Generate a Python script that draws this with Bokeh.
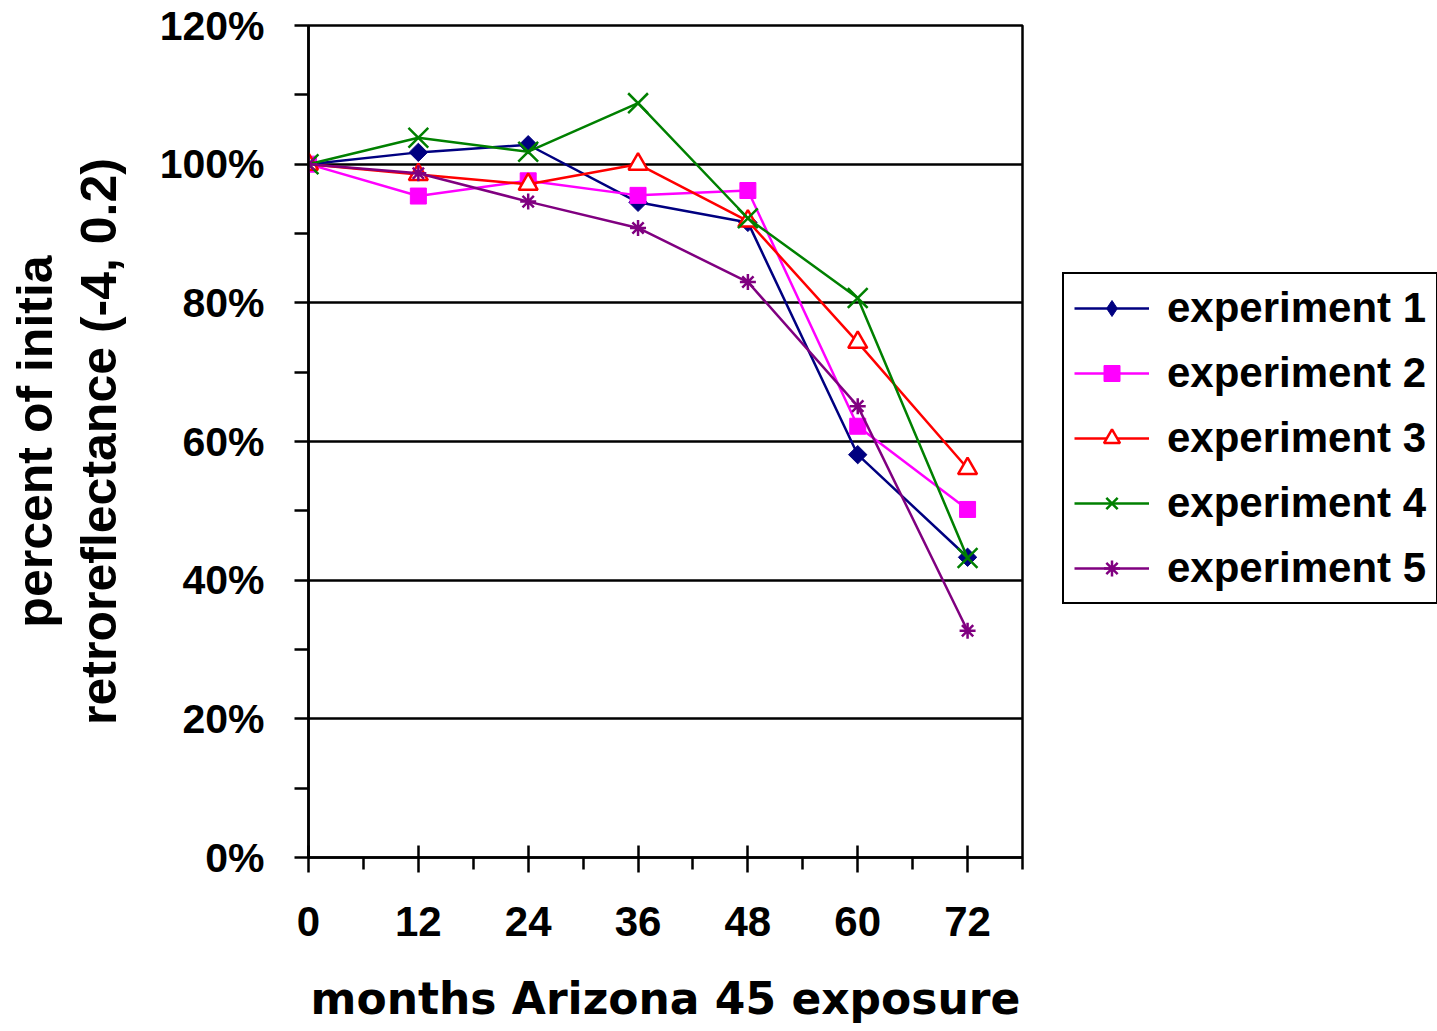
import math
from bokeh.plotting import figure
from bokeh.layouts import row
from bokeh.models import (FixedTicker, NumeralTickFormatter, LinearAxis, Legend,
                          LegendItem, Range1d)
from bokeh.embed import file_html
from bokeh.resources import INLINE

# ---- data ----
months = [0, 12, 24, 36, 48, 60, 72]
exp1 = [1.000, 1.017, 1.028, 0.945, 0.916, 0.581, 0.433]
exp2 = [1.000, 0.954, 0.976, 0.955, 0.962, 0.622, 0.502]
exp3 = [1.000, 0.985, 0.971, 1.000, 0.918, 0.743, 0.561]
exp4 = [1.000, 1.038, 1.018, 1.088, 0.922, 0.807, 0.432]
exp5 = [1.000, 0.987, 0.946, 0.908, 0.830, 0.651, 0.327]
series_names = ["experiment 1", "experiment 2", "experiment 3", "experiment 4", "experiment 5"]
series_values = [exp1, exp2, exp3, exp4, exp5]
colors = ["#000080", "#FF00FF", "#FF0000", "#008000", "#800080"]

x_ticks = [0, 12, 24, 36, 48, 60, 72]
x_minor_ticks = [6, 18, 30, 42, 54, 66, 78]
y_ticks = [0.0, 0.2, 0.4, 0.6, 0.8, 1.0, 1.2]
y_minor_ticks = [0.1, 0.3, 0.5, 0.7, 0.9, 1.1]

x_title = "months Arizona 45 exposure"
y_title_1 = "percent of initia"
y_title_2 = "retroreflectance (-4, 0.2)"

FONT = "Liberation Sans"

p = figure(width=1042, height=1031, output_backend="svg", toolbar_location=None,
           x_range=Range1d(0, 78), y_range=Range1d(0, 1.2),
           min_border_left=308, min_border_right=20, min_border_top=25,
           min_border_bottom=174, background_fill_color="white",
           border_fill_color="white")
p.outline_line_color = "black"
p.outline_line_width = 2.5
p.outline_line_alpha = 1.0

# grids
p.xgrid.visible = False
p.ygrid.ticker = FixedTicker(ticks=y_ticks)
p.ygrid.grid_line_color = "black"
p.ygrid.grid_line_width = 2.5

# x axis
xa = p.xaxis[0]
xa.ticker = FixedTicker(ticks=x_ticks, minor_ticks=x_minor_ticks)
xa.axis_line_color = "black"
xa.axis_line_width = 2.5
xa.major_tick_line_color = "black"
xa.major_tick_line_width = 2.5
xa.major_tick_in = 12
xa.major_tick_out = 15
xa.minor_tick_line_color = "black"
xa.minor_tick_line_width = 2.5
xa.minor_tick_in = 0
xa.minor_tick_out = 12
xa.major_label_text_font = FONT
xa.major_label_text_font_style = "bold"
xa.major_label_text_font_size = "42px"
xa.major_label_text_color = "black"
xa.major_label_standoff = 34
xa.axis_label = x_title
xa.axis_label_text_font = "DejaVu Sans"
xa.axis_label_text_font_style = "bold"
xa.axis_label_text_font_size = "44px"
xa.axis_label_text_color = "black"
xa.axis_label_standoff = 34

# y axis
ya = p.yaxis[0]
ya.ticker = FixedTicker(ticks=y_ticks, minor_ticks=y_minor_ticks)
ya.formatter = NumeralTickFormatter(format="0%")
ya.axis_line_color = "black"
ya.axis_line_width = 2.5
ya.major_tick_line_color = "black"
ya.major_tick_line_width = 2.5
ya.major_tick_in = 0
ya.major_tick_out = 14
ya.minor_tick_line_color = "black"
ya.minor_tick_line_width = 2.5
ya.minor_tick_in = 0
ya.minor_tick_out = 14
ya.major_label_text_font = FONT
ya.major_label_text_font_style = "bold"
ya.major_label_text_font_size = "41px"
ya.major_label_text_color = "black"
ya.major_label_standoff = 30
ya.axis_label = y_title_2
ya.axis_label_text_font = FONT
ya.axis_label_text_font_style = "bold"
ya.axis_label_text_font_size = "50px"
ya.axis_label_text_color = "black"
ya.axis_label_standoff = 30

# second (outer) left axis holding the first line of the y title
ya2 = LinearAxis(ticker=FixedTicker(ticks=[]), axis_line_color=None,
                 major_tick_line_color=None, minor_tick_line_color=None,
                 major_label_text_font_size="0px", major_tick_out=0, major_tick_in=0,
                 minor_tick_out=0, minor_tick_in=0,
                 axis_label=y_title_1, axis_label_text_font=FONT,
                 axis_label_text_font_style="bold", axis_label_text_font_size="50px",
                 axis_label_text_color="black", axis_label_standoff=5)
p.add_layout(ya2, "left")

# series
marker_specs = [
    dict(marker="square", size=13, angle=math.pi / 4, fill_color=colors[0], line_color=colors[0], line_width=1),
    dict(marker="square", size=16, angle=0.0, fill_color=colors[1], line_color=colors[1], line_width=1),
    dict(marker="triangle", size=19, angle=0.0, fill_color="white", line_color=colors[2], line_width=2.5),
    dict(marker="x", size=28, angle=0.0, fill_color=None, line_color=colors[3], line_width=2.5),
    dict(marker="asterisk", size=16, angle=0.0, fill_color=None, line_color=colors[4], line_width=2.5),
]
for name, vals, col, spec in zip(series_names, series_values, colors, marker_specs):
    p.line(months, vals, line_color=col, line_width=2.5)
    p.scatter(months, vals, **spec)

# ---- legend panel (separate figure to the right, frames aligned by the row) ----
legend_specs = [
    dict(marker="diamond", size=21, fill_color=colors[0], line_color=colors[0], line_width=1),
    dict(marker="square", size=15, fill_color=colors[1], line_color=colors[1], line_width=1),
    dict(marker="triangle", size=17, fill_color="white", line_color=colors[2], line_width=2.5),
    dict(marker="x", size=24, fill_color=None, line_color=colors[3], line_width=2.5),
    dict(marker="asterisk", size=15, fill_color=None, line_color=colors[4], line_width=2.5),
]
q = figure(width=395, height=1031, output_backend="svg", toolbar_location=None,
           x_range=Range1d(0, 1), y_range=Range1d(0, 1),
           x_axis_location=None, y_axis_location=None,
           min_border=0, min_border_left=0, min_border_right=0,
           min_border_top=0, min_border_bottom=0,
           background_fill_color="white", border_fill_color="white")
q.outline_line_color = None
q.xgrid.visible = False
q.ygrid.visible = False
items = []
for name, col, spec in zip(series_names, colors, legend_specs):
    lr = q.line([-10, -9], [-10, -9], line_color=col, line_width=2.5)
    sr = q.scatter([-10], [-10], **spec)
    items.append(LegendItem(label=name, renderers=[lr, sr]))

legend = Legend(items=items, location=(20, 253))
legend.label_text_font = FONT
legend.label_text_font_style = "bold"
legend.label_text_font_size = "42px"
legend.label_text_color = "black"
legend.glyph_width = 75
legend.glyph_height = 40
legend.label_height = 40
legend.label_standoff = 18
legend.spacing = 17
legend.padding = 10
legend.margin = 0
legend.border_line_color = "black"
legend.border_line_alpha = 1.0
legend.border_line_width = 2
legend.background_fill_color = "white"
legend.background_fill_alpha = 1.0
q.add_layout(legend, "center")

layout = row(p, q, spacing=0)
open("out.html", "w").write(file_html(layout, INLINE))
